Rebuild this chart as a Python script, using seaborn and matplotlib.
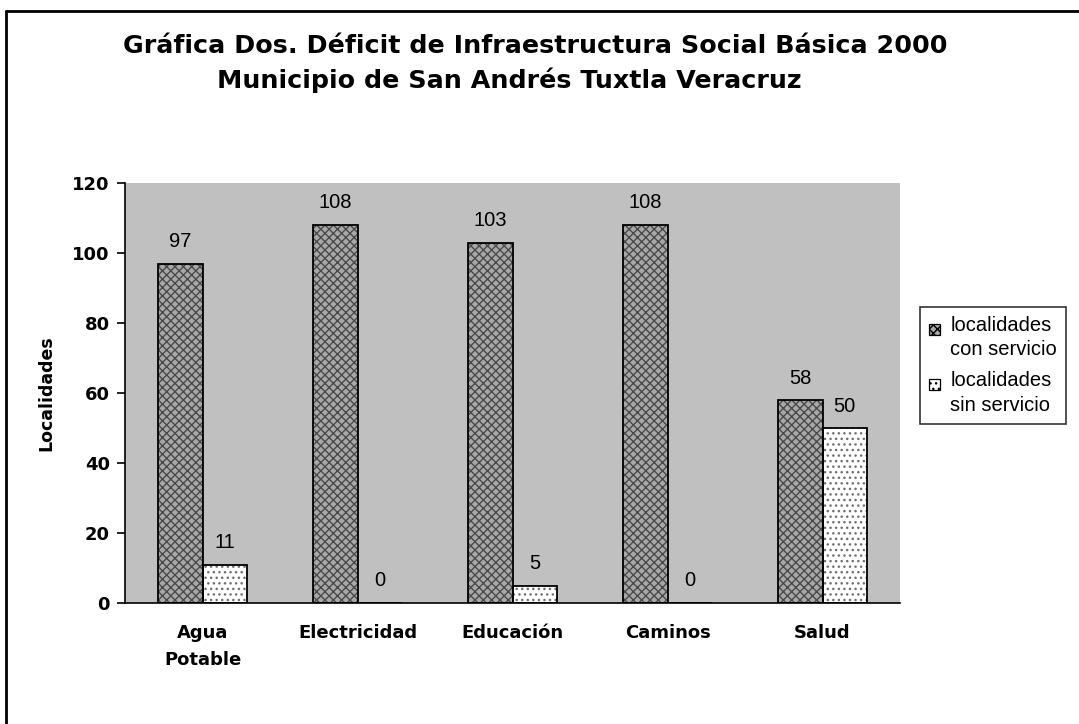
import matplotlib
matplotlib.use("Agg")
import matplotlib.pyplot as plt
import seaborn as sns
import pandas as pd
import numpy as np
from matplotlib.lines import Line2D
from matplotlib.patches import Patch, Rectangle
from matplotlib.legend_handler import HandlerPatch

categories = ["Agua\nPotable", "Electricidad", "Educación", "Caminos", "Salud"]
con_servicio = [97, 108, 103, 108, 58]
sin_servicio = [11, 0, 5, 0, 50]
series_names = ["localidades\ncon servicio", "localidades\nsin servicio"]
yticks = [0, 20, 40, 60, 80, 100, 120]
title1 = "Gráfica Dos. Déficit de Infraestructura Social Básica 2000"
title2 = "Municipio de San Andrés Tuxtla Veracruz"

df = pd.DataFrame({
    "cat": categories * 2,
    "serie": [series_names[0]] * 5 + [series_names[1]] * 5,
    "val": con_servicio + sin_servicio,
})

sns.set_style("white")
plt.rcParams["font.family"] = ["Liberation Sans", "DejaVu Sans"]
plt.rcParams["hatch.linewidth"] = 1.0
for k in ["text.color", "axes.labelcolor", "xtick.color", "ytick.color"]:
    plt.rcParams[k] = "black"
BOLD = ["DejaVu Sans"]

fig = plt.figure(figsize=(10.79, 7.24), dpi=100)
ax = fig.add_axes([125/1079, 1 - 603/724, (900-125)/1079, (603-183)/724])
ax.set_facecolor("#c0c0c0")

sns.barplot(data=df, x="cat", y="val", hue="serie", order=categories,
            hue_order=series_names, width=0.57, ax=ax, legend=False,
            palette=["#9a9a9a", "#ffffff"], saturation=1)

styles = [("#a8a8a8", "#4a4a4a", "xxxx"), ("#ffffff", "#707070", "...")]
for i, p in enumerate(list(ax.patches)):
    s = i // 5
    fc, hc, hatch = styles[s]
    p.set_facecolor(fc)
    p.set_edgecolor(hc)
    p.set_hatch(hatch)
    p.set_linewidth(0)
    x, y = p.get_xy()
    ax.add_patch(Rectangle((x, y), p.get_width(), p.get_height(),
                           fill=False, edgecolor="black", linewidth=1.3, zorder=3))

for i, c in enumerate(ax.containers):
    ax.bar_label(c, labels=[str(v) for v in (con_servicio if i == 0 else sin_servicio)],
                 padding=9, fontsize=14.5, color="black")

ax.set_ylim(0, 120)
ax.set_xlim(-0.5, 4.5)
ax.set_yticks(yticks)
ax.set_yticklabels([str(t) for t in yticks], fontsize=13, fontweight="bold", family=BOLD)
ax.set_xticks(range(5))
ax.set_xticklabels(categories, fontsize=13, fontweight="bold", family=BOLD, linespacing=1.65)
ax.tick_params(axis="x", which="major", length=0, pad=15)
ax.set_xticks(np.arange(-0.5, 5, 1), minor=True)
ax.tick_params(axis="x", which="minor", length=6, width=1.2, direction="out", color="black")
ax.tick_params(axis="y", length=6, width=1.2, direction="out", color="black", pad=5, left=True)
ax.set_xlabel("")
ax.set_ylabel("Localidades", fontsize=12.5, fontweight="bold", family=BOLD, labelpad=12)
for side in ["top", "right"]:
    ax.spines[side].set_visible(False)
for side in ["left", "bottom"]:
    ax.spines[side].set_color("black")
    ax.spines[side].set_linewidth(1.2)


class TopSquare(HandlerPatch):
    def create_artists(self, legend, orig_handle, xdescent, ydescent, width, height,
                       fontsize, trans):
        size = 0.55 * fontsize
        cy = -ydescent + height * 0.78
        r = Rectangle((-xdescent, cy - size / 2), size, size,
                      facecolor=orig_handle.get_facecolor(), edgecolor="black",
                      hatch=orig_handle.get_hatch(), linewidth=0.9, transform=trans)
        return [r]


handles = [Patch(facecolor=styles[k][0], hatch=styles[k][2]) for k in range(2)]
leg = fig.legend(handles, series_names, loc="upper left",
                 bbox_to_anchor=(920/1079, 1 - 307/724), fontsize=14.5,
                 frameon=True, fancybox=False, edgecolor="black", handlelength=0.6,
                 handleheight=2.2, handletextpad=0.45, borderpad=0.45, labelspacing=0.6,
                 borderaxespad=0, handler_map={Patch: TopSquare()})
leg.get_frame().set_linewidth(1.2)
for t in leg.get_texts():
    t.set_linespacing(1.35)

fig.text(535/1079, 1 - 53/724, title1, ha="center", va="baseline",
         fontsize=18.3, fontweight="bold", family=BOLD)
fig.text(509/1079, 1 - 88/724, title2, ha="center", va="baseline",
         fontsize=18.3, fontweight="bold", family=BOLD)

fig.add_artist(Line2D([6/1079, 6/1079], [0, 1 - 11/724], transform=fig.transFigure,
                      color="black", linewidth=2))
fig.add_artist(Line2D([6/1079, 1], [1 - 11/724, 1 - 11/724], transform=fig.transFigure,
                      color="black", linewidth=2))

fig.savefig("out.png", dpi=100)
